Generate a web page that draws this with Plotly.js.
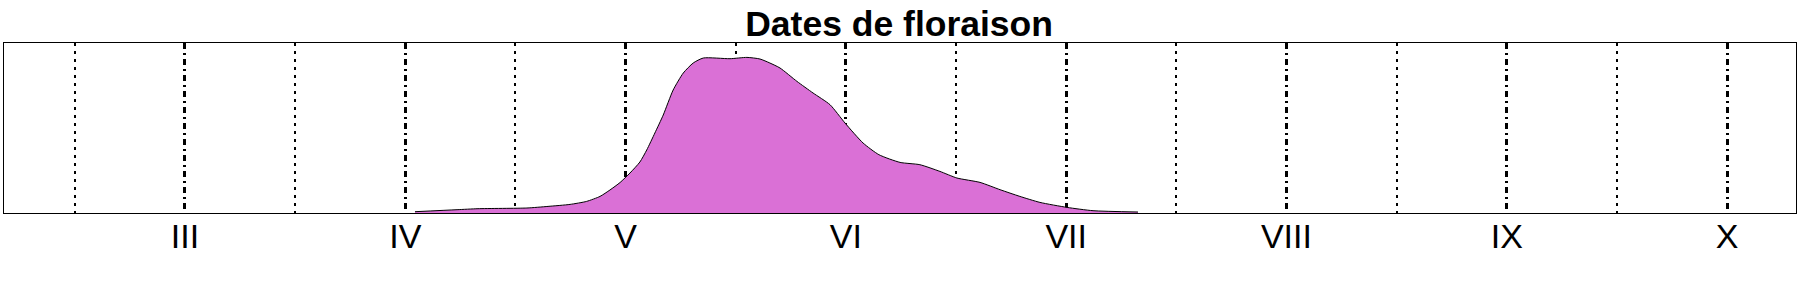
<!DOCTYPE html>
<html>
<head>
<meta charset="utf-8">
<script src="https://cdn.plot.ly/plotly-3.0.1.min.js"></script>
<style>html,body{margin:0;padding:0;background:#fff;}#chart{width:1800px;height:300px;}</style>
</head>
<body>
<div id="chart"></div>
<script>
// month (fractional) and density (relative units)
const months = [4.044, 4.235, 4.330, 4.552, 4.648, 4.748, 4.823, 4.884, 4.929, 4.975, 5.020, 5.065, 5.096, 5.133, 5.171, 5.216, 5.262, 5.307, 5.353, 5.474, 5.551, 5.610, 5.655, 5.701, 5.778, 5.851, 5.928, 5.996, 6.078, 6.150, 6.246, 6.336, 6.427, 6.504, 6.609, 6.700, 6.790, 6.881, 7.004, 7.122, 7.326];
const density = [1.3, 3.3, 4.3, 5.0, 6.6, 8.6, 11.6, 16.6, 23.0, 30.5, 40, 51, 63, 80, 98, 123, 140, 150, 155, 154.3, 155.6, 154, 150, 145, 131.6, 120, 108.3, 90, 70, 58.3, 50.6, 48.3, 41.6, 35, 30.6, 23.3, 16.6, 10.6, 5.6, 2.3, 1.0];
const tickMonths = [3, 4, 5, 6, 7, 8, 9, 10];
const tickLabels = ["III", "IV", "V", "VI", "VII", "VIII", "IX", "X"];
const halfMonths = [2.5, 3.5, 4.5, 5.5, 6.5, 7.5, 8.5, 9.5];
const titleText = "Dates de floraison";

const trace = {
  x: months, y: density, type: 'scatter', mode: 'lines',
  fill: 'tozeroy', fillcolor: '#DA70D6',
  line: {color: '#000000', width: 1, shape: 'spline', smoothing: 0.6},
  hoverinfo: 'skip', showlegend: false
};

const layout = {
  width: 1800, height: 300,
  margin: {l: 4, r: 4, t: 43, b: 87, pad: 0},
  paper_bgcolor: '#ffffff', plot_bgcolor: '#ffffff',
  font: {family: 'Liberation Sans, Arial, sans-serif', color: '#000000'},
  title: {text: '<b>' + titleText + '</b>', font: {size: 35.5, family: 'Liberation Sans, Arial, sans-serif', color: '#000'},
          x: 0.4995, xanchor: 'center', y: 0.922, yanchor: 'middle', yref: 'container'},
  xaxis: {
    range: [2.1784, 10.313], tickmode: 'array', tickvals: tickMonths, ticktext: tickLabels,
    ticks: '', tickfont: {size: 34}, ticklabelstandoff: -7,
    showline: true, mirror: true, linecolor: '#000', linewidth: 1,
    showgrid: true, gridcolor: '#000', gridwidth: 3, griddash: '6px,4px,2px,4px',
    zeroline: false, fixedrange: true,
    minor: {tickmode: 'array', tickvals: halfMonths, showgrid: true, gridcolor: '#000', gridwidth: 2, griddash: '3px,5px', ticks: ''}
  },
  yaxis: {
    range: [0, 170], showticklabels: false, ticks: '', showgrid: false, zeroline: false,
    showline: true, mirror: true, linecolor: '#000', linewidth: 1, fixedrange: true
  }
};

Plotly.newPlot('chart', [trace], layout, {displayModeBar: false, staticPlot: true});
</script>
</body>
</html>
